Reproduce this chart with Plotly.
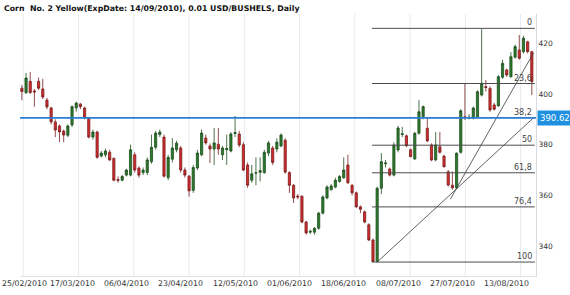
import plotly.graph_objects as go
import pandas as pd

title_text = "Corn\u00a0 No. 2 Yellow(ExpDate: 14/09/2010), 0.01 USD/BUSHELS, Daily"
first_date = "01/03/2010"

opens = [402.3, 400.5, 405.0, 401.2, 405.0, 402.0, 397.6, 394.5, 389.0, 387.4, 385.4, 383.7, 387.8, 394.5, 396.0, 394.5, 390.5, 383.0, 385.0, 375.5, 376.0, 377.0,
         374.6, 366.3, 366.0, 368.0, 368.0, 376.0, 370.8, 369.0, 369.0, 373.3, 379.0, 384.0, 383.0, 367.0, 374.3, 378.0, 378.7, 370.0, 367.6, 362.0, 370.8, 376.0, 382.6,
         379.5, 378.3, 380.2, 376.0, 378.0, 377.5, 384.4, 384.2, 380.0, 372.0, 366.0, 368.8, 369.1, 369.0, 376.7, 378.7, 378.3, 379.5, 381.8, 369.0, 364.0, 359.7, 359.7,
         349.5, 345.5, 345.5, 347.0, 353.0, 359.0, 362.2, 363.3, 365.5, 367.0, 372.0, 364.0, 361.0, 355.5, 353.5, 348.4, 342.4, 333.9,
         362.8, 372.5, 370.4, 368.0, 377.9, 384.0, 383.5, 378.0, 374.4, 384.5, 391.0, 386.5, 379.9, 374.0, 379.2, 375.5, 369.3, 364.0, 363.0, 377.0,
         391.0, 390.6, 390.5, 391.0, 399.6, 402.9, 402.2, 395.7, 395.3, 406.6, 409.5, 406.8, 414.5, 417.4, 416.7, 420.6, 416.7]
closes = [401.0, 406.3, 400.6, 400.8, 402.3, 398.8, 394.9, 389.0, 385.8, 385.0, 383.8, 387.4, 395.0, 396.4, 395.0, 390.5, 383.0, 385.0, 375.0, 376.7, 377.5, 374.0,
          366.0, 366.0, 367.5, 370.0, 378.0, 370.0, 368.0, 370.0, 374.0, 379.0, 384.6, 385.0, 367.6, 375.0, 378.7, 380.6, 370.0, 368.0, 361.8, 371.0, 376.7, 384.6, 380.7,
          378.3, 380.7, 378.3, 378.7, 378.5, 384.2, 384.8, 379.9, 370.0, 364.0, 368.5, 368.9, 369.8, 377.0, 380.7, 373.0, 381.0, 383.8, 369.2, 364.0, 359.0, 359.4, 349.5,
          345.2, 345.8, 347.0, 353.0, 359.4, 363.3, 363.7, 366.0, 367.5, 370.0, 365.0, 361.0, 355.5, 354.5, 349.5, 342.4, 333.9, 362.8,
          373.3, 372.8, 368.0, 379.9, 386.6, 384.3, 379.6, 375.3, 384.5, 393.0, 395.0, 381.5, 374.0, 379.9, 377.0, 371.3, 364.1, 363.0, 376.6, 393.4,
          390.8, 390.8, 394.5, 400.9, 404.2, 402.6, 393.7, 394.0, 406.8, 412.1, 407.5, 414.7, 418.7, 414.1, 422.0, 416.7, 404.9]
highs = [403.5, 408.3, 408.7, 402.0, 406.5, 406.0, 398.5, 395.0, 390.0, 388.0, 386.0, 388.0, 395.5, 397.0, 396.5, 395.0, 391.0, 386.0, 385.5, 377.5, 378.5, 378.0,
         375.0, 367.5, 368.0, 370.5, 380.0, 377.0, 371.5, 371.0, 375.0, 384.0, 385.5, 386.0, 384.0, 376.0, 382.6, 381.5, 379.5, 371.0, 368.0, 372.0, 378.0, 386.0, 384.0,
         380.5, 386.6, 386.6, 379.5, 384.0, 385.0, 391.3, 385.5, 381.0, 373.0, 372.0, 375.0, 375.0, 378.0, 381.5, 379.5, 382.5, 384.5, 382.5, 369.5, 364.5, 360.5, 360.0,
         350.0, 346.5, 347.5, 353.5, 360.0, 364.0, 364.5, 367.0, 368.0, 375.0, 376.0, 364.5, 361.5, 356.0, 354.0, 349.0, 343.0, 363.5,
         376.7, 374.0, 371.0, 381.0, 387.5, 387.0, 384.0, 378.5, 385.0, 397.6, 395.5, 391.0, 380.5, 385.0, 385.0, 376.0, 370.0, 369.5, 377.0, 394.0,
         404.0, 392.0, 395.0, 401.5, 425.9, 405.5, 403.0, 396.5, 407.5, 413.5, 410.0, 416.5, 419.5, 423.3, 423.0, 421.0, 417.0]
lows = [397.5, 400.0, 400.0, 395.0, 401.5, 398.0, 394.0, 388.0, 383.0, 381.0, 381.0, 383.0, 387.0, 393.0, 394.0, 390.0, 382.5, 382.0, 374.5, 375.0, 375.0, 373.5,
        365.5, 365.0, 365.5, 367.5, 367.5, 369.0, 367.0, 368.0, 368.0, 372.5, 378.0, 383.0, 367.0, 366.0, 373.0, 377.0, 369.0, 367.0, 359.5, 361.0, 370.0, 375.5, 380.0,
        372.8, 372.0, 376.0, 374.0, 372.0, 377.0, 383.0, 379.0, 369.5, 363.0, 365.0, 364.0, 365.5, 368.5, 375.5, 372.0, 377.0, 379.0, 368.5, 361.0, 357.0, 358.5, 349.0,
        344.5, 344.8, 344.5, 346.5, 352.5, 358.5, 362.0, 362.8, 365.0, 366.5, 364.5, 360.0, 355.0, 353.0, 349.0, 342.0, 333.7, 333.7,
        360.5, 371.0, 367.5, 367.5, 377.0, 383.0, 379.0, 375.0, 374.0, 384.0, 390.0, 381.0, 373.5, 373.5, 376.5, 371.0, 363.5, 362.2, 362.5, 376.5,
        389.7, 390.0, 390.0, 390.5, 399.0, 401.0, 393.0, 393.5, 395.0, 406.0, 406.8, 406.5, 414.0, 413.5, 416.0, 416.0, 399.6]

tick_dates = ["25/02/2010", "17/03/2010", "06/04/2010", "23/04/2010", "12/05/2010",
              "01/06/2010", "18/06/2010", "08/07/2010", "27/07/2010", "13/08/2010"]
y_ticks = [340, 360, 380, 400, 420]
fib_ratios = [0, 23.6, 38.2, 50, 61.8, 76.4, 100]
fib_labels = ["0", "23,6", "38,2", "50", "61,8", "76,4", "100"]
level_price = 390.62
level_label = "390.62"
# trend lines (bar offset from first visible bar, price)
trend1_bar = [85, 122.4]
trend1_price = [333.7, 390.6]
trend2_bar = [102.5, 122.4]
trend2_price = [358.5, 416.2]

# trading calendar
holidays = pd.to_datetime(["2010-04-02", "2010-05-31", "2010-07-05"])
cal = [d for d in pd.bdate_range("2010-02-25", "2010-09-30") if d not in holidays]
cal_labels = [d.strftime("%d/%m/%Y") for d in cal]
first = cal_labels.index(first_date)
n = len(opens)
x = list(range(first, first + n))

W, H = 570, 295
ml, mr, mt, mb = 20, 34, 14, 19
x_range = [first - 0.45, first + 123.0]
y_range = [328.2, 431.56]

font_fam = "DejaVu Sans"

fig = go.Figure()
fig.add_trace(go.Candlestick(
    x=x, open=opens, high=highs, low=lows, close=closes,
    increasing=dict(fillcolor="#2b7a2b", line=dict(color="#1f4f1f", width=0.8)),
    decreasing=dict(fillcolor="#d42b2b", line=dict(color="#7a2020", width=0.8)),
    whiskerwidth=0, hoverinfo="skip", showlegend=False,
))

# trend lines
for bx, py in [(trend1_bar, trend1_price), (trend2_bar, trend2_price)]:
    fig.add_trace(go.Scatter(x=[first + b for b in bx], y=py, mode="lines",
                             line=dict(color="#3a3a3a", width=0.8),
                             hoverinfo="skip", showlegend=False))

shapes = []
# vertical grid lines
for k in range(10):
    gx = first + 0.33 + 13.22 * k
    shapes.append(dict(type="line", xref="x", yref="paper", x0=gx, x1=gx, y0=0, y1=1,
                       line=dict(color="#e4ebf1", width=1), layer="below"))

# fibonacci levels
hi = max(highs)
lo = min(lows)
lo_idx = first + lows.index(lo)
fib_x0 = lo_idx - 0.25
fib_x1 = first + 122.7
annotations = []
for r, lab in zip(fib_ratios, fib_labels):
    lvl = hi - r / 100.0 * (hi - lo)
    shapes.append(dict(type="line", xref="x", yref="y", x0=fib_x0, x1=fib_x1, y0=lvl, y1=lvl,
                       line=dict(color="#4d4d4d", width=1)))
    annotations.append(dict(x=first + 122.5, y=lvl, xref="x", yref="y", text=lab,
                            showarrow=False, xanchor="right", yanchor="bottom", yshift=-1,
                            font=dict(family=font_fam, size=8, color="#444444")))

# horizontal level line
shapes.append(dict(type="line", xref="paper", yref="y", x0=0, x1=1, y0=level_price, y1=level_price,
                   line=dict(color="#2a7ed3", width=1.8)))
annotations.append(dict(x=1, y=level_price, xref="paper", yref="y", text=level_label,
                        showarrow=False, xanchor="left", yanchor="middle", xshift=1,
                        bgcolor="#1e8fe1", borderpad=2,
                        font=dict(family=font_fam, size=8.5, color="white")))

# date labels (the first one is clamped to the left edge like the original)
pw = W - ml - mr
date_font = dict(family=font_fam, size=7.8, color="#333333")
annotations.append(dict(x=-ml / pw, y=0, xref="paper", yref="paper", text=tick_dates[0],
                        showarrow=False, xanchor="left", yanchor="top", yshift=-1,
                        font=date_font))
for t in tick_dates[1:]:
    annotations.append(dict(x=cal_labels.index(t), y=0, xref="x", yref="paper", text=t,
                            showarrow=False, xanchor="center", yanchor="top", yshift=-1,
                            font=date_font))

# title
annotations.append(dict(x=-(ml - 2) / pw, y=1 + (mt - 8) / (H - mt - mb), xref="paper", yref="paper",
                        text="<b>" + title_text + "</b>", showarrow=False,
                        xanchor="left", yanchor="middle",
                        font=dict(family=font_fam, size=7.8, color="#111111")))

fig.update_layout(
    width=W, height=H,
    margin=dict(l=ml, r=mr, t=mt, b=mb, pad=0, autoexpand=False),
    paper_bgcolor="white", plot_bgcolor="white",
    shapes=shapes, annotations=annotations,
    showlegend=False,
    boxgap=0.25,
    xaxis=dict(range=x_range, rangeslider=dict(visible=False), showgrid=False, zeroline=False,
               showticklabels=False, ticks="", automargin=False,
               showline=True, linecolor="#dde3e8", linewidth=1),
    yaxis=dict(range=y_range, side="right", showgrid=False, zeroline=False,
               tickmode="array", tickvals=y_ticks, ticks="", automargin=False,
               tickfont=dict(family=font_fam, size=7.5, color="#333333"),
               showline=True, linecolor="#d5dbe0", linewidth=1),
)

fig.write_html("out.html")
